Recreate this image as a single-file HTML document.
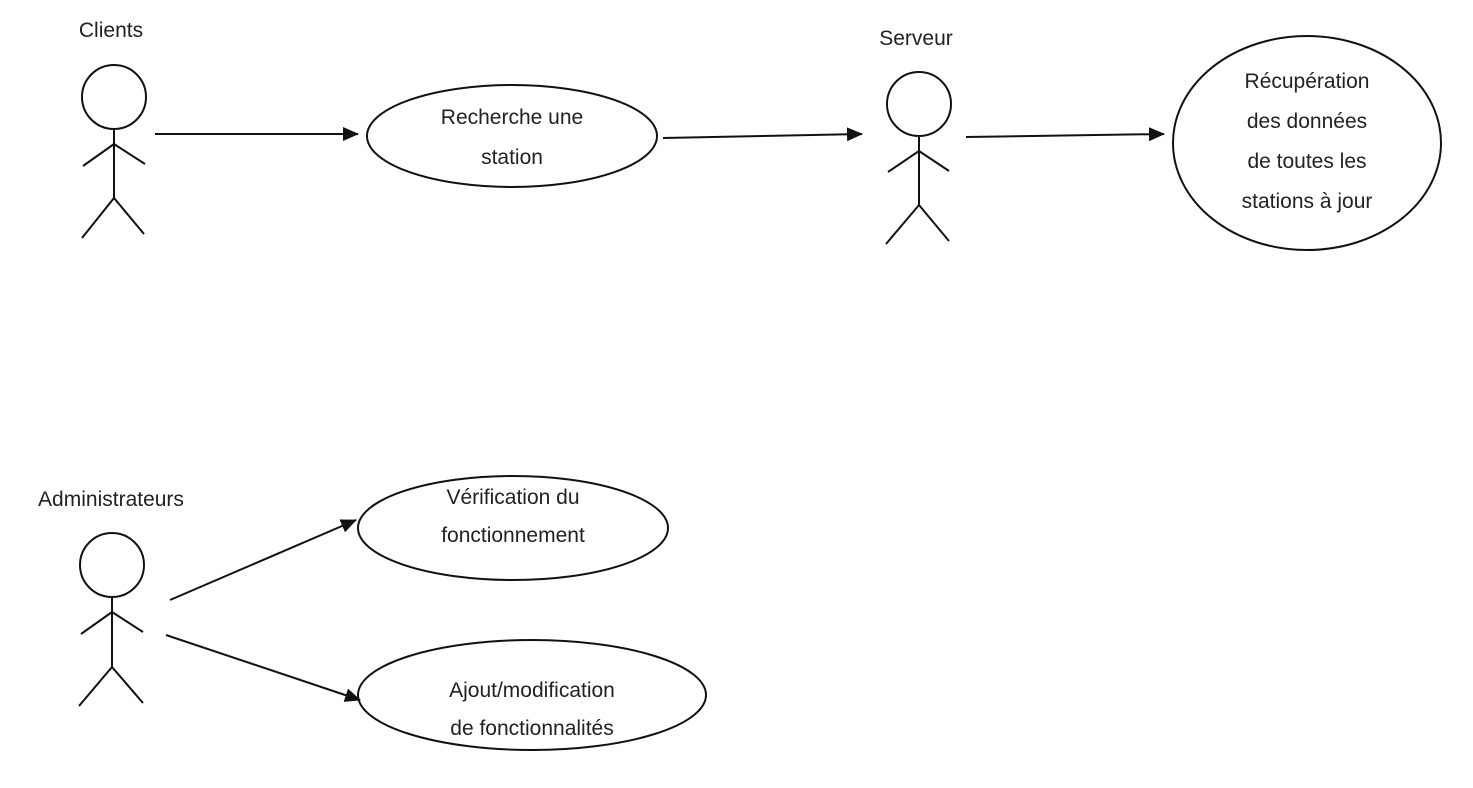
<!DOCTYPE html>
<html><head><meta charset="utf-8"><style>
html,body{margin:0;padding:0;background:#fff;}
svg{display:block;}
text{font-family:"Liberation Sans",sans-serif;font-size:21px;fill:#222;}
</style></head><body>
<svg width="1473" height="788" viewBox="0 0 1473 788" xmlns="http://www.w3.org/2000/svg">
<defs><marker id="a" markerWidth="16" markerHeight="14" refX="15" refY="7" orient="auto" markerUnits="userSpaceOnUse" viewBox="0 0 16 14"><path d="M0,0 L16,7 L0,14z" fill="#111"/></marker>
</defs>
<g stroke="#111" stroke-width="2" fill="none">
<circle cx="114" cy="97" r="32"/>
<path d="M114,129 V198 M83,166 L114,144 L145,164 M82,238 L114,198 L144,234"/>
<circle cx="919" cy="104" r="32"/>
<path d="M919,136 V205 M888,172 L919,151 L949,171 M886,244 L919,205 L949,241"/>
<circle cx="112" cy="565" r="32"/>
<path d="M112,597 V667 M81,634 L112,612 L143,632 M79,706 L112,667 L143,703"/>
<ellipse cx="512" cy="136" rx="145" ry="51"/>
<ellipse cx="1307" cy="143" rx="134" ry="107"/>
<ellipse cx="513" cy="528" rx="155" ry="52"/>
<ellipse cx="532" cy="695" rx="174" ry="55"/>
<line x1="155" y1="134" x2="358" y2="134" marker-end="url(#a)"/>
<line x1="663" y1="138" x2="862" y2="134" marker-end="url(#a)"/>
<line x1="966" y1="137" x2="1164" y2="134" marker-end="url(#a)"/>
<line x1="170" y1="600" x2="356" y2="520" marker-end="url(#a)"/>
<line x1="166" y1="635" x2="360" y2="700" marker-end="url(#a)"/>
</g>
<text x="111" y="37" text-anchor="middle">Clients</text>
<text x="916" y="45" text-anchor="middle">Serveur</text>
<text x="111" y="506" text-anchor="middle">Administrateurs</text>
<text x="512" y="124" text-anchor="middle">Recherche une</text>
<text x="512" y="164" text-anchor="middle">station</text>
<text x="1307" y="88" text-anchor="middle">Récupération</text>
<text x="1307" y="128" text-anchor="middle">des données</text>
<text x="1307" y="168" text-anchor="middle">de toutes les</text>
<text x="1307" y="208" text-anchor="middle">stations à jour</text>
<text x="513" y="504" text-anchor="middle">Vérification du</text>
<text x="513" y="542" text-anchor="middle">fonctionnement</text>
<text x="532" y="697" text-anchor="middle">Ajout/modification</text>
<text x="532" y="735" text-anchor="middle">de fonctionnalités</text>
</svg>
</body></html>
